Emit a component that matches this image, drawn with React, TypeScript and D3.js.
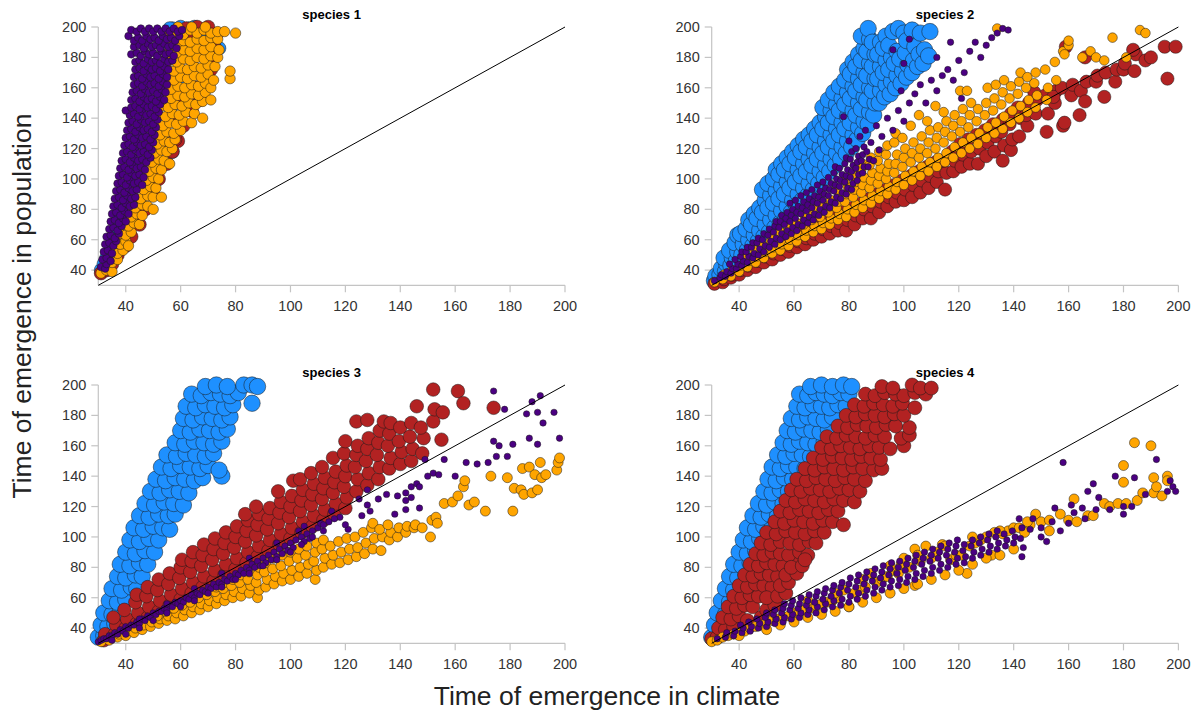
import React from 'react'
import * as d3 from 'd3'

type Pt = [number, number]

// species 1
const s1Blue: Pt[] = [[31,40],[32,44],[33,48],[34,52],[35,57],[36,62],[37,68],[38,74],[39,80],[41,90],[43,100],[45,110],[48,120],[52,130],[55,140],[57,118],[58,150],[60,160],[62,170],[64,180],[66,190],[57,199],[60,200],[63,199],[65,200],[74,186],[70,195],[45,130],[47,150],[50,170],[53,190],[56,199]]
const s1Red: Pt[] = [[31,38],[33,40],[35,44],[37,50],[40,56],[42,62],[45,70],[47,80],[50,90],[52,100],[55,110],[57,118],[59,125],[61,135],[64,145],[67,152],[66,160],[69,168],[71,178],[72,188],[73,195],[70,200],[66,200],[62,199],[68,185],[63,170],[60,155],[56,140],[53,125],[50,112],[48,100],[44,85],[41,72],[38,60],[58,126],[60,190],[64,195],[73,185],[71,172]]
const s1Orange: Pt[] = [[31,38],[33,40],[35,39],[33,46],[35,45],[37,47],[35,52],[37,51],[39,53],[36,58],[38,57],[40,59],[41,56],[38,64],[40,63],[42,65],[39,70],[41,69],[43,71],[45,70],[40,76],[42,75],[44,77],[46,76],[41,82],[43.5,81],[46,83],[48,82],[50,80],[43,88],[45.5,87],[48,89],[50,88],[53,88],[44,94],[46.5,93],[49,95],[51,94],[45,100],[47.5,99],[50,101],[52,100],[46,106],[48.5,105],[51,107],[53,106],[47,112],[49.5,111],[52,113],[54,112],[56,110],[48,118],[50.5,117],[53,119],[55,118],[57,120],[49,124],[51.5,123],[54,125],[56,124],[58,126],[50,130],[52.5,129],[55,131],[57.5,130],[60,132],[51,136],[53.5,135],[56,137],[58.5,136],[61,138],[64,137],[52,142],[54.5,141],[57,143],[59.5,142],[62,144],[65,143],[68,140],[53,148],[55.5,147],[58,149],[60.5,148],[63,150],[65.5,149],[68,151],[54,154],[56.5,153],[59,155],[61.5,154],[64,156],[66.5,155],[69,157],[71,152],[54,160],[56.5,159],[59,161],[61.5,160],[64,162],[66.5,161],[69,163],[71,160],[55,166],[57.5,165],[60,167],[62.5,166],[65,168],[67.5,167],[70,169],[72,165],[78,166],[55,172],[57.5,171],[60,173],[62.5,172],[65,174],[67.5,173],[70,175],[72.5,174],[78,171],[56,178],[58.5,177],[61,179],[63.5,178],[66,180],[68.5,179],[71,181],[73.5,180],[56,184],[58.5,183],[61,185],[63.5,184],[66,186],[68.5,185],[71,187],[74,185],[56,190],[58.5,189],[61,191],[63.5,190],[66,192],[68.5,191],[71,193],[73.5,192],[56,196],[58.5,197],[61,195],[63.5,198],[66,196],[68.5,198],[71,196],[73.5,197],[76,197],[80,196],[59,200],[64,200],[69,200]]
const s1Purple: Pt[] = [[31,42],[32.5,41],[33,44],[31.5,47],[33,48],[34.5,46],[32,52],[33.5,53],[35,51],[32.5,57],[34,58],[35.5,56],[36.5,59],[33,62],[34.5,63],[36,61],[37.5,64],[34,67],[35.5,68],[37,66],[38.5,69],[34.5,72],[36,73],[37.5,71],[39,74],[40,72],[35,77],[36.5,78],[38,76],[39.5,79],[41,77],[35.5,82],[37,83],[38.5,81],[40,84],[41.5,82],[43,83],[36,87],[37.5,88],[39,86],[40.5,89],[42,87],[43.5,88],[36.5,92],[38,93],[39.5,91],[41,94],[42.5,92],[44,93],[37,97],[38.5,98],[40,96],[41.5,99],[43,97],[44.5,98],[46,96],[37.5,102],[39,103],[40.5,101],[42,104],[43.5,102],[45,103],[46.5,101],[38,107],[39.5,108],[41,106],[42.5,109],[44,107],[45.5,108],[47,106],[38.5,112],[40,113],[41.5,111],[43,114],[44.5,112],[46,113],[47.5,111],[49,114],[39,117],[40.5,118],[42,116],[43.5,119],[45,117],[46.5,118],[48,116],[49.5,119],[39.5,122],[41,123],[42.5,121],[44,124],[45.5,122],[47,123],[48.5,121],[50,124],[40,127],[41.5,128],[43,126],[44.5,129],[46,127],[47.5,128],[49,126],[50.5,129],[40.5,132],[42,133],[43.5,131],[45,134],[46.5,132],[48,133],[49.5,131],[51,134],[41,137],[42.5,138],[44,136],[45.5,139],[47,137],[48.5,138],[50,136],[51.5,139],[41.5,142],[43,143],[44.5,141],[46,144],[47.5,142],[49,143],[50.5,141],[52,144],[40,145],[42,147],[43.5,148],[45,146],[46.5,149],[48,147],[49.5,148],[51,146],[52.5,149],[42,152],[43.5,153],[45,151],[46.5,154],[48,152],[49.5,153],[51,151],[52.5,154],[54,152],[42.5,157],[44,158],[45.5,156],[47,159],[48.5,157],[50,158],[51.5,156],[53,159],[54.5,157],[43,162],[44.5,163],[46,161],[47.5,164],[49,162],[50.5,163],[52,161],[53.5,164],[55,162],[43,167],[44.5,168],[46,166],[47.5,169],[49,167],[50.5,168],[52,166],[53.5,169],[55,167],[43.5,172],[45,173],[46.5,171],[48,174],[49.5,172],[51,173],[52.5,171],[54,174],[55.5,172],[43.5,177],[45,178],[46.5,176],[48,179],[49.5,177],[51,178],[52.5,176],[54,179],[55.5,177],[57,178],[42,182],[44,183],[45.5,181],[47,184],[48.5,182],[50,183],[51.5,181],[53,184],[54.5,182],[56,183],[57.5,181],[43,187],[45,188],[46.5,186],[48,189],[49.5,187],[51,188],[52.5,186],[54,189],[55.5,187],[57,188],[58.5,186],[41,194],[43,191],[44.5,193],[46,191],[47.5,194],[49,192],[50.5,193],[52,191],[53.5,194],[55,192],[56.5,193],[58,191],[59.5,194],[42,198],[44,197],[45.5,199],[47,197],[48.5,199],[50,197],[51.5,199],[53,197],[54.5,199],[56,197],[57.5,199],[59,197],[60.5,198]]

// species 2
const s2Blue: Pt[] = [[31,33],[31.5,36],[33,37],[33.5,41],[35,39],[35.5,44],[34.5,48],[37,43],[37.5,48],[36.5,53],[39,46],[39.5,52],[38.5,58],[39.5,63],[41,50],[41.5,57],[40.5,64],[43,53],[43.5,60],[42.5,67],[43.5,73],[45,56],[45.5,63],[44.5,70],[45.5,77],[47,59],[47.5,66],[46.5,74],[47.5,81],[49,62],[49.5,70],[48.5,78],[49.5,86],[48.5,93],[51,65],[51.5,73],[50.5,81],[51.5,89],[50.5,97],[53,68],[53.5,76],[52.5,84],[53.5,92],[52.5,100],[53.5,106],[55,71],[55.5,79],[54.5,87],[55.5,95],[54.5,103],[55.5,110],[57,74],[57.5,82],[56.5,90],[57.5,98],[56.5,106],[57.5,114],[59,78],[59.5,86],[58.5,94],[59.5,102],[58.5,110],[59.5,118],[61,82],[61.5,90],[60.5,98],[61.5,106],[60.5,114],[61.5,122],[63,86],[63.5,94],[62.5,102],[63.5,110],[62.5,118],[63.5,126],[65,89],[65.5,97],[64.5,105],[65.5,113],[64.5,121],[65.5,129],[67,93],[67.5,101],[66.5,109],[67.5,117],[66.5,125],[67.5,133],[69,97],[69.5,105],[68.5,113],[69.5,121],[68.5,129],[69.5,137],[71,101],[71.5,109],[70.5,117],[71.5,125],[70.5,133],[71.5,141],[70.5,147],[73,105],[73.5,113],[72.5,121],[73.5,129],[72.5,137],[73.5,145],[72.5,152],[75,109],[75.5,117],[74.5,125],[75.5,133],[74.5,141],[75.5,149],[74.5,157],[77,113],[77.5,121],[76.5,129],[77.5,137],[76.5,145],[77.5,153],[76.5,161],[79,117],[79.5,125],[78.5,133],[79.5,141],[78.5,149],[79.5,157],[78.5,165],[79.5,172],[81,121],[81.5,129],[80.5,137],[81.5,145],[80.5,153],[81.5,161],[80.5,169],[81.5,177],[83,126],[83.5,134],[82.5,142],[83.5,150],[82.5,158],[83.5,166],[82.5,174],[83.5,182],[85,130],[85.5,138],[84.5,146],[85.5,154],[84.5,162],[85.5,170],[84.5,178],[85.5,186],[84.5,194],[87,136],[87.5,144],[86.5,152],[87.5,160],[86.5,168],[87.5,176],[86.5,184],[87.5,192],[87,199],[89,142],[89.5,150],[88.5,158],[89.5,166],[88.5,174],[89.5,182],[88.5,190],[91,150],[91.5,158],[90.5,166],[91.5,174],[90.5,182],[91.5,190],[93,154],[93.5,162],[92.5,170],[93.5,178],[92.5,186],[93.5,194],[95,156],[95.5,164],[94.5,172],[95.5,180],[94.5,188],[96,197],[97,160],[97.5,168],[96.5,176],[97.5,184],[98,199],[99,163],[99.5,171],[98.5,179],[100,196],[101,167],[101.5,175],[100.5,183],[101,191],[103,198],[103,170],[103.5,178],[104,187],[105,174],[105.5,182],[106,196],[107,176],[107.5,185],[109,181],[109.5,197]]
const s2Red: Pt[] = [[31,31],[34,32],[34.5,34],[37,35],[37.5,37],[40,37],[40.5,40],[43,40],[43.5,43],[46,42],[46.5,46],[49,45],[49.5,49],[52,47],[52.5,51],[51.5,54],[55,50],[55.5,54],[54.5,57],[58,52],[58.5,56],[57.5,60],[61,55],[61.5,59],[60.5,62],[64,57],[64.5,61],[63.5,65],[67,60],[67.5,64],[66.5,68],[70,62],[70.5,67],[69.5,71],[73,64],[73.5,69],[72.5,74],[76,66],[76.5,71],[75.5,76],[79,66],[79.5,73],[78.5,79],[82,70],[82.5,76],[81.5,81],[85,74],[85.5,80],[84.5,84],[88,74],[88.5,82],[87.5,87],[91,78],[91.5,85],[90.5,90],[94,82],[94.5,88],[93.5,93],[97,85],[97.5,91],[96.5,96],[100,86],[100.5,93],[99.5,99],[103,88],[103.5,96],[102.5,102],[106,91],[106.5,99],[105.5,105],[109,94],[109.5,102],[108.5,108],[112,98],[112.5,105],[111.5,111],[115,93],[115.5,104],[114.5,112],[118,105],[118.5,112],[117.5,118],[121,108],[121.5,116],[120.5,123],[124,110],[124.5,118],[123.5,126],[127,110],[127.5,120],[126.5,129],[130,115],[130.5,124],[129.5,132],[133,118],[133.5,128],[132.5,136],[136,112],[136.5,122],[135.5,131],[136,139],[139,119],[139.5,126],[138.5,136],[139,143],[142,128],[142.5,140],[141.5,147],[145,135],[145.5,150],[144.5,142],[148,143],[148.5,152],[147.5,157],[152,131],[152.5,143],[151.5,155],[155,150],[155.5,158],[154.5,154],[158,135],[158.5,137],[157.5,160],[161,155],[161.5,162],[164,142],[164.5,158],[166,151],[166.5,164],[170,164],[170.5,168],[173,154],[173.5,170],[177,164],[177.5,172],[180,172],[180.5,176],[184,171],[184.5,182],[183.5,185],[188,178],[190,180],[195,187],[199,187],[196,166],[159,187],[166,180]]
const s2Orange: Pt[] = [[31,32],[34,34],[34.5,37],[37,36],[37.5,40],[40,39],[40.5,43],[43,42],[43.5,46],[42.5,49],[46,45],[46.5,49],[45.5,53],[49,48],[49.5,52],[48.5,56],[52,51],[52.5,55],[51.5,59],[52,62],[55,53],[55.5,57],[54.5,61],[55,65],[58,56],[58.5,60],[57.5,64],[58,68],[61,59],[61.5,63],[60.5,67],[61,71],[64,62],[64.5,66],[63.5,70],[64,74],[67,65],[67.5,69],[66.5,73],[67,77],[67.5,80],[70,67],[70.5,71],[69.5,75],[70,79],[70.5,83],[73,70],[73.5,74],[72.5,78],[73,82],[73.5,86],[76,73],[76.5,77],[75.5,81],[76,85],[76.5,89],[75.5,93],[79,75],[79.5,80],[78.5,85],[79,90],[79.5,95],[78.5,99],[82,78],[82.5,83],[81.5,88],[82,93],[82.5,98],[81.5,103],[85,81],[85.5,86],[84.5,91],[85,96],[85.5,101],[84.5,106],[85,110],[88,84],[88.5,89],[87.5,94],[88,99],[88.5,104],[87.5,109],[88,114],[91,87],[91.5,92],[90.5,97],[91,102],[91.5,107],[90.5,112],[91,118],[94,90],[94.5,95],[93.5,100],[94,105],[94.5,110],[93.5,116],[94,122],[97,93],[97.5,98],[96.5,104],[97,110],[97.5,116],[96.5,124],[97,130],[100,96],[100.5,102],[99.5,108],[100,114],[100.5,120],[99.5,127],[103,99],[103.5,105],[102.5,111],[103,117],[103.5,124],[102.5,135],[106,102],[106.5,108],[105.5,114],[106,120],[106.5,128],[105.5,142],[109,105],[109.5,111],[108.5,117],[109,124],[109.5,132],[108.5,138],[112,108],[112.5,114],[111.5,120],[112,127],[112.5,134],[111.5,148],[115,111],[115.5,117],[114.5,124],[115,131],[115.5,138],[114.5,144],[118,114],[118.5,121],[117.5,128],[118,135],[118.5,142],[121,117],[121.5,124],[120.5,131],[121,138],[121.5,146],[120.5,158],[124,120],[124.5,127],[123.5,134],[124,142],[124.5,150],[127,123],[127.5,130],[126.5,138],[127,146],[130,127],[130.5,134],[129.5,142],[130,150],[130.5,160],[133,130],[133.5,137],[132.5,145],[133,153],[133.5,162],[136,133],[136.5,141],[135.5,149],[136,157],[136.5,165],[139,137],[139.5,145],[138.5,153],[139,161],[142,140],[142.5,148],[141.5,156],[142,164],[142.5,170],[145,144],[145.5,152],[144.5,160],[145,167],[148,147],[148.5,155],[147.5,163],[148,170],[152,152],[152.5,160],[151.5,172],[155,177],[155.5,165],[158,184],[158.5,182],[160,188],[165,180],[168,184],[170,180],[173,178],[176,193],[181,180],[186,198],[188,196],[160,191],[134,199],[123,158]]
const s2Purple: Pt[] = [[31,33],[33,35],[33.5,37],[35,36],[35.5,39],[37,38],[37.5,41],[36.5,44],[39,41],[39.5,44],[38.5,47],[41,43],[41.5,46],[40.5,49],[41,52],[43,45],[43.5,49],[42.5,52],[43,55],[45,48],[45.5,51],[44.5,55],[45,58],[47,50],[47.5,54],[46.5,58],[47,61],[49,52],[49.5,56],[48.5,60],[49,64],[51,55],[51.5,59],[50.5,63],[51,67],[53,57],[53.5,61],[52.5,65],[53,69],[53.5,72],[55,60],[55.5,64],[54.5,68],[55,72],[55.5,76],[57,62],[57.5,66],[56.5,70],[57,74],[57.5,78],[59,64],[59.5,68],[58.5,72],[59,76],[59.5,80],[58.5,84],[61,66],[61.5,70],[60.5,74],[61,78],[61.5,82],[60.5,86],[63,69],[63.5,73],[62.5,77],[63,81],[63.5,85],[62.5,89],[65,71],[65.5,75],[64.5,79],[65,83],[65.5,87],[64.5,91],[67,73],[67.5,77],[66.5,81],[67,85],[67.5,89],[66.5,93],[69,76],[69.5,80],[68.5,84],[69,88],[69.5,92],[68.5,96],[71,78],[71.5,82],[70.5,86],[71,90],[71.5,94],[70.5,98],[73,81],[73.5,85],[72.5,89],[73,93],[73.5,97],[72.5,101],[75,84],[75.5,88],[74.5,92],[75,96],[75.5,100],[74.5,104],[75,108],[77,87],[77.5,91],[76.5,95],[77,99],[77.5,103],[76.5,107],[79,90],[79.5,94],[78.5,98],[79,102],[79.5,106],[78.5,110],[79,114],[81,93],[81.5,97],[80.5,101],[81,105],[81.5,109],[80.5,113],[81,118],[83,99],[83.5,103],[82.5,107],[83,111],[83.5,115],[82.5,120],[85,104],[85.5,108],[84.5,112],[85,116],[85.5,121],[87,108],[87.5,113],[86.5,118],[78,141],[80,125],[84,128],[86,132],[88,124],[90,135],[92,128],[94,140],[96,132],[98,145],[100,138],[102,150],[99,158],[104,156],[106,162],[108,150],[110,165],[112,158],[114,168],[116,172],[118,165],[120,178],[122,170],[124,184],[121,153],[126,190],[128,180],[130,188],[132,193],[136,199],[138,198],[134,196],[117,190],[112,180],[100,176],[96,185],[102,192],[91,119],[89,112]]

// species 3
const s3Blue: Pt[] = [[30,34],[32,35],[31,42],[33.5,41],[36,43],[32,50],[35,49],[38,51],[34,58],[37,57],[40,59],[35,66],[38.5,65],[42,67],[44,66],[37,74],[40,73],[43.5,75],[46,74],[38,82],[41.5,81],[45,83],[48,82],[40,90],[43.5,89],[47,91],[50.5,90],[41.5,98],[45,97],[48.5,99],[52,98],[43,106],[46.5,105],[50,107],[53.5,106],[56,105],[45,114],[48.5,113],[52,115],[55.5,114],[58,115],[47,122],[50.5,121],[54,123],[57.5,122],[61,121],[49,130],[52.5,129],[56,131],[59.5,130],[63,129],[51,138],[54.5,137],[58,139],[61.5,138],[65,137],[68,139],[53,146],[56.5,145],[60,147],[63.5,146],[67,145],[70,147],[55,154],[58.5,153],[62,155],[65.5,154],[69,153],[72,155],[58,162],[61.5,161],[65,163],[68.5,162],[72,161],[75,163],[60,170],[63.5,169],[67,171],[70.5,170],[74,169],[77,171],[61,178],[64.5,177],[68,179],[71.5,178],[75,177],[78,179],[62,186],[65.5,185],[69,187],[72.5,186],[76,185],[79,187],[86,188],[64,194],[67.5,193],[71,195],[74.5,194],[78,193],[81,195],[69,199],[73,200],[77,199],[83,200],[86,200],[88,199],[75,140],[74,144]]
const s3Red: Pt[] = [[32,32],[32.5,36],[36,36],[36.5,42],[35.5,47],[40,40],[40.5,46],[39.5,52],[44,43],[44.5,50],[43.5,57],[44,62],[48,47],[48.5,54],[47.5,61],[48,67],[52,51],[52.5,58],[51.5,65],[52,72],[56,55],[56.5,62],[55.5,69],[56,76],[60,59],[60.5,66],[59.5,73],[60,80],[60.5,85],[64,63],[64.5,70],[63.5,77],[64,84],[64.5,90],[68,67],[68.5,74],[67.5,81],[68,88],[68.5,95],[72,71],[72.5,78],[71.5,85],[72,92],[72.5,99],[76,75],[76.5,82],[75.5,89],[76,96],[76.5,103],[80,79],[80.5,86],[79.5,93],[80,100],[80.5,107],[84,83],[84.5,90],[83.5,97],[84,104],[84.5,111],[83.5,115],[88,87],[88.5,94],[87.5,101],[88,108],[88.5,115],[87.5,120],[92,91],[92.5,98],[91.5,105],[92,112],[92.5,119],[96,95],[96.5,102],[95.5,109],[96,116],[96.5,123],[95.5,130],[100,99],[100.5,106],[99.5,113],[100,120],[100.5,127],[101,137],[104,103],[104.5,110],[103.5,117],[104,124],[104.5,131],[103.5,138],[108,107],[108.5,114],[107.5,121],[108,128],[108.5,135],[107.5,142],[112,111],[112.5,118],[111.5,125],[112,132],[112.5,139],[111.5,146],[116,115],[116.5,122],[115.5,129],[116,136],[116.5,143],[115.5,152],[120,119],[120.5,126],[119.5,133],[120,140],[120.5,147],[119.5,155],[120,163],[124,130],[124.5,138],[123.5,146],[124,154],[124.5,160],[124,176],[128,134],[128.5,142],[127.5,150],[128,158],[128.5,165],[128,177],[132,138],[132.5,146],[131.5,154],[132,162],[132.5,170],[134,176],[136,145],[136.5,152],[135.5,160],[136,168],[136.5,175],[140,148],[140.5,156],[139.5,163],[140,172],[144,150],[144.5,158],[143.5,166],[144,175],[146,186],[148,155],[148.5,165],[147.5,172],[152,176],[152.5,184],[152,197],[155,164],[155.5,182],[161,196],[163,188],[174,185]]
const s3Orange: Pt[] = [[31,31],[34,32],[34.5,34],[37,34],[37.5,36],[40,35],[40.5,38],[43,37],[43.5,40],[46,39],[46.5,42],[49,41],[49.5,44],[52,43],[52.5,46],[51.5,48],[55,45],[55.5,48],[54.5,51],[58,46],[58.5,50],[57.5,53],[61,48],[61.5,52],[60.5,55],[64,50],[64.5,54],[63.5,57],[67,52],[67.5,56],[66.5,60],[70,54],[70.5,58],[69.5,62],[70,65],[73,56],[73.5,60],[72.5,64],[73,67],[76,58],[76.5,62],[75.5,66],[76,70],[79,60],[79.5,64],[78.5,68],[79,72],[82,61],[82.5,66],[81.5,70],[82,75],[85,63],[85.5,68],[84.5,72],[85,77],[88,60],[88.5,65],[87.5,70],[88,75],[88.5,80],[91,67],[91.5,72],[90.5,77],[91,83],[94,69],[94.5,74],[93.5,79],[94,86],[97,71],[97.5,76],[96.5,81],[97,88],[100,72],[100.5,78],[99.5,84],[100,90],[103,74],[103.5,80],[102.5,86],[103,92],[106,76],[106.5,82],[105.5,88],[106,94],[109,72],[109.5,78],[108.5,84],[109,90],[109.5,96],[112,80],[112.5,86],[111.5,92],[112,98],[115,82],[115.5,88],[114.5,94],[118,83],[118.5,90],[117.5,97],[121,85],[121.5,92],[120.5,99],[124,87],[124.5,93],[123.5,100],[127,89],[127.5,96],[126.5,103],[130,92],[130.5,99],[129.5,106],[130,109],[133,91],[133.5,100],[132.5,105],[136,98],[136.5,103],[135.5,108],[139,100],[139.5,106],[142,103],[142.5,107],[145,106],[145.5,108],[148,106],[151,100],[151.5,111],[153,113],[153.5,109],[156,122],[159,123],[161,127],[163,133],[163.5,137],[165,121],[167,123],[171,117],[173,140],[179,139],[181,117],[181.5,132],[184,131],[184.5,145],[185,128],[187,146],[188,129],[189,141],[190,131],[191,149],[191.5,139],[193,141],[197,144],[197.5,149],[198,152]]
const s3Purple: Pt[] = [[30,31],[31,32],[32,33],[33,33],[34,35],[35,35],[36,37],[37,36],[38,39],[39,38],[40,41],[41,40],[42,42],[43,42],[44,44],[45,43],[46,46],[47,45],[48,48],[49,47],[50,50],[51,49],[52,51],[53,51],[54,53],[55,52],[56,55],[57,54],[58,57],[59,56],[60,58],[61,57],[62,60],[63,59],[64,62],[65,60],[66,63],[67,62],[68,65],[69,64],[70,67],[71,66],[72,69],[73,67],[74,70],[75,69],[76,72],[77,71],[78,74],[79,72],[80,76],[81,75],[82,78],[83,76],[84,80],[85,78],[86,82],[87,80],[88,84],[89,81],[90,86],[91,83],[92,88],[93,85],[94,90],[95,87],[96,92],[97,89],[98,94],[99,91],[100,96],[101,93],[102,98],[104,100],[105,97],[106,102],[108,104],[107,99],[110,106],[111,109],[112,104],[114,110],[115,117],[118,113],[121,105],[125,125],[126,114],[128,121],[128,131],[129,117],[132,125],[135,128],[138,115],[139,127],[142,129],[142,124],[142,118],[144,133],[144,126],[146,135],[147,133],[147,119],[149,151],[150,140],[152,142],[154,141],[156,151],[160,140],[164,149],[168,148],[172,149],[175,153],[176,160],[174,163],[179,153],[181,161],[187,165],[190,161],[198,165],[174,196],[178,184],[186,181],[188,189],[190,182],[191,193],[192,175],[196,182],[35,32],[40,36],[45,40],[50,45],[55,50],[60,54],[65,58],[70,63],[75,67],[80,72],[85,76],[90,81],[95,85],[100,90],[104,95],[108,100],[112,108],[116,112],[120,108],[45,46],[55,56],[65,66],[75,76],[85,86],[95,96],[103,104],[105,107]]

// species 4
const s4Blue: Pt[] = [[30,34],[32,35],[31,42],[34,41],[32,50],[35,49],[37.5,51],[33.5,58],[36.5,57],[39.5,59],[35,66],[38,65],[41,67],[36.5,74],[39.5,73],[42.5,75],[38,82],[41,81],[44,83],[47,82],[40,90],[43,89],[46,91],[49,90],[41.5,98],[44.5,97],[47.5,99],[50.5,98],[43,106],[46,105],[49,107],[52,106],[55,105],[45,114],[48,113],[51,115],[54,114],[57,113],[47,122],[50,121],[53,123],[56,122],[59,121],[49,130],[52,129],[55,131],[58,130],[61,129],[50.5,138],[53.5,137],[56.5,139],[59.5,138],[62.5,137],[52,146],[55,145],[58,147],[61,146],[64,145],[54,154],[57,153],[60,155],[63,154],[66,153],[56,162],[59,161],[62,163],[65,162],[68,161],[71,163],[57.5,170],[60.5,169],[63.5,171],[66.5,170],[69.5,169],[72.5,171],[59,178],[62,177],[65,179],[68,178],[71,177],[74,179],[61,186],[64,185],[67,187],[70,186],[73,185],[76,187],[79,186],[62,194],[65,193],[68,195],[71,194],[74,193],[77,195],[80,194],[66,199],[70,200],[74,199],[78,200],[81,199]]
const s4Red: Pt[] = [[30,33],[32,34],[32.5,40],[35,39],[38,41],[34,47],[37,46],[40,48],[36,54],[39,53],[42,55],[45,54],[38,61],[41,60],[44,62],[47,61],[40,68],[43,67],[46,69],[49,68],[52,67],[42,75],[45,74],[48,76],[51,75],[54,74],[44,82],[47,81],[50,83],[53,82],[56,81],[60,83],[46,89],[49,88],[52,90],[55,89],[58,88],[62,90],[65,88],[48,96],[51.5,95],[55,97],[58.5,96],[62,95],[65.5,97],[68,96],[50,103],[53.5,102],[57,104],[60.5,103],[64,102],[67.5,104],[71,103],[53,110],[56.5,109],[60,111],[63.5,110],[67,109],[70.5,111],[74,110],[78,108],[55,117],[58.5,116],[62,118],[65.5,117],[69,116],[72.5,118],[76,117],[57,124],[60.5,123],[64,125],[67.5,124],[71,123],[74.5,125],[78,124],[82,123],[59,131],[62.5,130],[66,132],[69.5,131],[73,130],[76.5,132],[80,131],[84,130],[61,138],[64.5,137],[68,139],[71.5,138],[75,137],[78.5,139],[82,138],[86,137],[64,145],[67.5,144],[71,146],[74.5,145],[78,144],[81.5,146],[85,145],[89,144],[92,145],[67,152],[70.5,151],[74,153],[77.5,152],[81,151],[84.5,153],[88,152],[91.5,151],[70,159],[73.5,158],[77,160],[80.5,159],[84,158],[87.5,160],[91,159],[95,158],[100,160],[72,166],[75.5,165],[79,167],[82.5,166],[86,165],[89.5,167],[93,166],[99,165],[102,167],[76,173],[79.5,172],[83,174],[86.5,173],[90,172],[93.5,174],[97,173],[102,172],[79,180],[82.5,179],[86,181],[89.5,180],[93,179],[96.5,181],[100,180],[82,187],[85.5,186],[89,188],[92.5,187],[96,186],[99.5,188],[104,185],[86,194],[89.5,193],[93,195],[97,194],[100,193],[104,195],[108,194],[92,199],[96,198],[103,200],[106,198],[110,198],[43,45],[48,47],[50,52],[53,55],[50,60],[54,61],[57,63],[55,68],[58,70],[57,75],[61,76],[59,80],[63,81],[64,85]]
const s4Orange: Pt[] = [[30,31],[32,32],[34,34],[36,35],[38,36],[40,37],[42,38],[44,40],[46,41],[48,42],[50,44],[52,45],[54,46],[56,47],[58,48],[60,50],[62,51],[64,52],[66,53],[68,55],[70,56],[72,57],[74,58],[76,60],[78,65],[80,54],[82,63],[84,65],[86,67],[88,76],[90,70],[92,72],[94,74],[96,78],[98,76],[99,82],[100,86],[102,80],[104,92],[104,68],[106,84],[108,94],[110,86],[112,90],[114,95],[117,85],[119,88],[121,88],[123,76],[124,94],[126,96],[128,98],[130,100],[132,88],[133,103],[136,102],[138,104],[140,106],[142,106],[144,103],[146,108],[148,115],[150,110],[153,111],[153,104],[157,115],[160,111],[162,125],[163,110],[167,114],[169,114],[173,122],[175,120],[178,122],[180,147],[180,136],[181,122],[184,162],[185,124],[187,129],[190,160],[191,139],[191,129],[192,133],[194,127],[196,140],[196,137],[40,35],[50,39],[60,44],[70,49],[80,54],[90,60],[100,66],[110,72],[120,78],[130,86],[65,58],[75,63],[85,72],[95,81],[105,88],[115,94],[125,100],[135,104],[145,110],[55,42],[65,47],[75,51],[85,57],[95,63],[105,69],[115,75],[125,82],[135,88],[140,92]]
const s4Purple: Pt[] = [[32,33],[35,34],[35.5,37],[38,35],[38.5,38],[41,37],[41.5,40],[40.5,42],[44,38],[44.5,41],[43.5,44],[47,40],[47.5,43],[46.5,46],[50,41],[50.5,44],[49.5,47],[50,50],[53,43],[53.5,46],[52.5,49],[53,52],[56,44],[56.5,47],[55.5,50],[56,53],[56.5,56],[59,46],[59.5,49],[58.5,52],[59,55],[59.5,58],[62,47],[62.5,50],[61.5,53],[62,56],[62.5,60],[65,49],[65.5,52],[64.5,55],[65,58],[65.5,62],[68,50],[68.5,54],[67.5,57],[68,61],[68.5,64],[71,52],[71.5,56],[70.5,59],[71,63],[71.5,66],[74,54],[74.5,58],[73.5,61],[74,65],[74.5,68],[77,55],[77.5,59],[76.5,63],[77,67],[77.5,70],[80,57],[80.5,61],[79.5,65],[80,69],[80.5,73],[83,59],[83.5,63],[82.5,67],[83,71],[83.5,75],[86,61],[86.5,65],[85.5,69],[86,73],[86.5,77],[89,63],[89.5,67],[88.5,71],[89,75],[89.5,79],[92,65],[92.5,69],[91.5,73],[92,77],[92.5,81],[95,67],[95.5,71],[94.5,75],[95,79],[95.5,83],[98,68],[98.5,72],[97.5,76],[98,80],[98.5,84],[101,70],[101.5,74],[100.5,78],[101,82],[101.5,86],[104,72],[104.5,76],[103.5,80],[104,84],[104.5,88],[107,74],[107.5,78],[106.5,82],[107,86],[107.5,90],[110,76],[110.5,80],[109.5,84],[110,88],[110.5,92],[113,78],[113.5,82],[112.5,86],[113,90],[113.5,94],[116,80],[116.5,84],[115.5,88],[116,92],[116.5,96],[119,82],[119.5,86],[118.5,90],[119,94],[119.5,98],[122,83],[122.5,87],[121.5,91],[122,95],[125,86],[125.5,90],[124.5,94],[125,98],[128,88],[128.5,92],[127.5,96],[128,100],[131,90],[131.5,94],[130.5,98],[131,102],[134,92],[134.5,96],[133.5,100],[134,104],[137,94],[137.5,98],[136.5,102],[140,96],[140.5,100],[139.5,104],[143,87],[143.5,93],[142.5,99],[143,106],[142,112],[146,105],[150,106],[152,97],[155,119],[158,149],[160,109],[161,121],[165,119],[167,130],[169,135],[171,126],[175,118],[177,140],[180,115],[180,120],[183,120],[184,139],[188,128],[192,151],[196,130],[197,137],[198,133],[199,130],[147,112],[150,100],[154,110],[157,104],[162,116],[166,112],[170,118]]

const tickValues = [40, 60, 80, 100, 120, 140, 160, 180, 200]
const domain: [number, number] = [30, 200]

const colors = { blue: '#1e90ff', red: '#b22222', orange: '#ffa500', purple: '#4b0082' }

const panels = [
  { title: 'species 1', left: 98.3, top: 27, blue: s1Blue, red: s1Red, orange: s1Orange, purple: s1Purple, r: [6.8, 6.8, 5.2, 3.8] },
  { title: 'species 2', left: 711.7, top: 27, blue: s2Blue, red: s2Red, orange: s2Orange, purple: s2Purple, r: [8.2, 6.6, 4.8, 3.2] },
  { title: 'species 3', left: 98.3, top: 385, blue: s3Blue, red: s3Red, orange: s3Orange, purple: s3Purple, r: [8.2, 6.8, 5, 3.2] },
  { title: 'species 4', left: 711.7, top: 385, blue: s4Blue, red: s4Red, orange: s4Orange, purple: s4Purple, r: [8.2, 7, 5, 3.2] },
]

const W = 466.7
const H = 258.3
const font = '"Liberation Sans", Arial, Helvetica, sans-serif'

const Panel = ({ p }: { p: typeof panels[number] }) => {
  const x = d3.scaleLinear().domain(domain).range([0, W])
  const y = d3.scaleLinear().domain(domain).range([H, 0])
  const layers: [Pt[], string, number][] = [
    [p.blue, colors.blue, p.r[0]],
    [p.red, colors.red, p.r[1]],
    [p.orange, colors.orange, p.r[2]],
    [p.purple, colors.purple, p.r[3]],
  ]
  const diag = d3.line<number>().x(d => x(d)).y(d => y(d))(domain)
  return (
    <g transform={`translate(${p.left},${p.top})`}>
      {/* axes */}
      <line x1={0} x2={0} y1={0} y2={H} stroke="#c4c4c4" strokeWidth={1.2} />
      <line x1={0} x2={W} y1={H} y2={H} stroke="#c4c4c4" strokeWidth={1.2} />
      {tickValues.map(t => (
        <g key={'x' + t}>
          <line x1={x(t)} x2={x(t)} y1={H} y2={H + 7} stroke="#c4c4c4" strokeWidth={1.2} />
          <text x={x(t)} y={H + 26} textAnchor="middle" fontSize={14.5} fill="#333" fontFamily={font}>{t}</text>
        </g>
      ))}
      {tickValues.map(t => (
        <g key={'y' + t}>
          <line x1={-7} x2={0} y1={y(t)} y2={y(t)} stroke="#c4c4c4" strokeWidth={1.2} />
          <text x={-12} y={y(t)} dy="0.35em" textAnchor="end" fontSize={14.5} fill="#333" fontFamily={font}>{t}</text>
        </g>
      ))}
      {layers.map(([pts, c, r], li) => (
        <g key={li}>
          {pts.map((d, i) => (
            <circle key={i} cx={x(d[0])} cy={y(d[1])} r={r} fill={c} stroke="#1a1a1a" strokeWidth={0.6} strokeOpacity={0.85} />
          ))}
        </g>
      ))}
      <path d={diag || ''} stroke="#000" strokeWidth={1} fill="none" />
      <text x={W / 2} y={-8} textAnchor="middle" fontSize={13} fontWeight="bold" fill="#000" fontFamily={font}>{p.title}</text>
    </g>
  )
}

export default function App() {
  return (
    <svg width={1199} height={715} style={{ position: 'absolute', left: 0, top: 0, background: '#fff' }}>
      {panels.map(p => <Panel key={p.title} p={p} />)}
      <text x={607} y={705} textAnchor="middle" fontSize={26.5} fill="#222" fontFamily={font}>Time of emergence in climate</text>
      <text transform="translate(31,306) rotate(-90)" textAnchor="middle" fontSize={26.5} fill="#222" fontFamily={font}>Time of emergence in population</text>
    </svg>
  )
}
